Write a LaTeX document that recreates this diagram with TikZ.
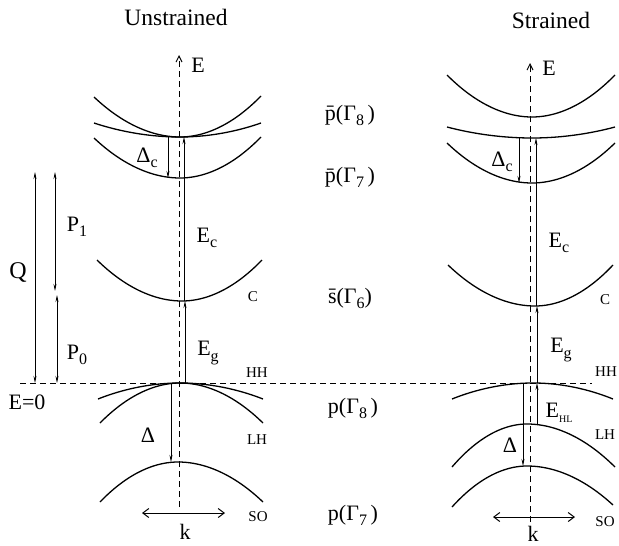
\documentclass[tikz,border=0pt]{standalone}
\usepackage{fontspec}
\usepackage{graphicx}
\setmainfont{Liberation Serif}
\usetikzlibrary{arrows.meta}
\newcommand{\lsub}[1]{\raisebox{-0.5ex}{\fontsize{16}{16}\selectfont #1}}
\newcommand{\tsub}[1]{\raisebox{-0.5ex}{\fontsize{10}{10}\selectfont #1}}
\begin{document}
\begin{tikzpicture}[x=1pt,y=-1pt,
  band/.style={line width=1.3pt},
  axisline/.style={dash pattern=on 6pt off 4pt, line width=1pt, -{Straight Barb[length=6pt,width=6pt]}},
  gap/.style={line width=0.7pt, -{Stealth[length=7pt,width=3pt]}},
  dbl/.style={line width=0.7pt, {Stealth[length=7pt,width=3pt]}-{Stealth[length=7pt,width=3pt]}},
  karrow/.style={line width=1pt, {Straight Barb[length=6pt,width=9pt]}-{Straight Barb[length=6pt,width=9pt]}},
  lbl/.style={font=\fontsize{22}{22}\selectfont, inner sep=0pt},
  ttl/.style={font=\fontsize{23.5}{23.5}\selectfont, inner sep=0pt},
  small/.style={font=\fontsize{15}{15}\selectfont, inner sep=0pt}]
\useasboundingbox (0,0) rectangle (619,546);

% titles
\node[ttl] (tU) at (176,17) {Unstrained};
\node[ttl] (tS) at (551,20) {Strained};

% E=0 line
\coordinate (e0l) at (20,383);
\coordinate (e0r) at (592,383);
\draw[dash pattern=on 6pt off 4pt, line width=0.9pt] (e0l) -- (e0r);

% ---------- Unstrained bands ----------
\draw[band] (94,97) parabola bend (180,137) (261,96);
\draw[band] (94,123) parabola bend (180,137) (261,123);
\draw[band] (94,138) parabola bend (180,178) (261,137);
\draw[band] (97,260) parabola bend (182,301) (262,260);
\draw[band] (98,399) parabola bend (180,383) (263,399);
\draw[band] (100,423) parabola bend (180,383) (263,423);
\draw[band] (100,502) parabola bend (178,462) (263,502);

\coordinate (uG8) at (180,137);
\coordinate (uG7) at (180,178);
\coordinate (uC) at (180,301);
\coordinate (uHH) at (180,383);
\coordinate (uSO) at (180,462);
\coordinate (uAb) at (179,507);
\coordinate (uAt) at (179,55);

\draw[axisline] (uAb) -- (uAt);
\draw[gap] ([xshift=-12pt]uG8) -- ([xshift=-12pt]uG7);
\draw[gap] ([xshift=4pt]uC) -- ([xshift=4pt]uG8);
\draw[gap] ([xshift=5pt]uHH) -- ([xshift=5pt]uC);
\draw[gap] ([xshift=-9pt]uHH) -- ([xshift=-9pt]uSO);
\coordinate (uk1) at (142,513);
\coordinate (uk2) at (225,513);
\draw[karrow] (uk1) -- (uk2);

\node[lbl] (uE) at (198,65) {E};
\node[lbl] (uDc) at (147,158) {Δ\lsub{c}};
\node[lbl] (uEc) at (207,238) {E\lsub{c}};
\node[lbl] (uEg) at (208,353) {E\lsub{g}};
\node[lbl] (uD) at (148,435) {Δ};
\node[lbl] (uk) at (185,532) {k};
\node[small] (uClab) at (253,297) {C};
\node[small] (uHHlab) at (257,373) {HH};
\node[small] (uLHlab) at (257,440) {LH};
\node[small] (uSOlab) at (258,517) {SO};

% ---------- Strained bands ----------
\draw[band] (447,75) parabola bend (532,117) (615,75);
\draw[band] (447,127) parabola bend (532,138) (615,127);
\draw[band] (447,143) parabola bend (532,183) (615,143);
\draw[band] (448,265) parabola bend (535,306) (613,265);
\draw[band] (452,399) parabola bend (533,383) (613,399);
\draw[band] (452,467) parabola bend (527,424) (615,467);
\draw[band] (452,507) parabola bend (527,466) (613,505);

\coordinate (sG8) at (532,138);
\coordinate (sG7) at (532,183);
\coordinate (sC) at (532,306);
\coordinate (sHH) at (532,383);
\coordinate (sLH) at (532,424);
\coordinate (sSO) at (532,466);
\coordinate (sAb) at (530,522);
\coordinate (sAt) at (530,63);

\draw[axisline] (sAb) -- (sAt);
\draw[gap] ([xshift=-13pt]sG8) -- ([xshift=-13pt]sG7);
\draw[gap] ([xshift=4pt]sC) -- ([xshift=4pt]sG8);
\draw[gap] ([xshift=5pt]sHH) -- ([xshift=5pt]sC);
\draw[gap] ([xshift=5pt]sLH) -- ([xshift=5pt]sHH);
\draw[gap] ([xshift=-9pt]sHH) -- ([xshift=-9pt]sSO);
\coordinate (sk1) at (493,517);
\coordinate (sk2) at (575,517);
\draw[karrow] (sk1) -- (sk2);

\node[lbl] (sE) at (549,68) {E};
\node[lbl] (sDc) at (502,162) {Δ\lsub{c}};
\node[lbl] (sEc) at (559,243) {E\lsub{c}};
\node[lbl] (sEg) at (561,350) {E\lsub{g}};
\node[lbl] (sEHL) at (559,413) {E\tsub{HL}};
\node[lbl] (sD) at (510,445) {Δ};
\node[lbl] (sk) at (533,534) {k};
\node[small] (sClab) at (605,300) {C};
\node[small] (sHHlab) at (606,372) {HH};
\node[small] (sLHlab) at (605,435) {LH};
\node[small] (sSOlab) at (605,522) {SO};

% ---------- middle labels ----------
\node[lbl] (m1) at (350,115) {\={p}(Γ\lsub{8}\,)};
\node[lbl] (m2) at (350,177) {\={p}(Γ\lsub{7}\,)};
\node[lbl] (m3) at (350,298) {\={s}(Γ\lsub{6})};
\node[lbl] (m4) at (353,408) {p(Γ\lsub{8}\,)};
\node[lbl] (m5) at (353,515) {p(Γ\lsub{7}\,)};

% ---------- left energy scale ----------
\coordinate (qt) at (35,172);
\coordinate (qb) at (35,383);
\coordinate (p1t) at (55,172);
\coordinate (p1b) at (55,291);
\coordinate (p0t) at (57,295);
\coordinate (p0b) at (57,383);
\draw[dbl] (qt) -- (qb);
\draw[dbl] (p1t) -- (p1b);
\draw[dbl] (p0t) -- (p0b);
\node[font=\fontsize{24}{24}\selectfont, inner sep=0pt] (Q) at (18,272) {Q};
\node[lbl] (P1) at (77,227) {P\lsub{1}};
\node[lbl] (P0) at (77,355) {P\lsub{0}};
\node[lbl] (E0) at (27,402) {E=0};
\end{tikzpicture}
\end{document}
